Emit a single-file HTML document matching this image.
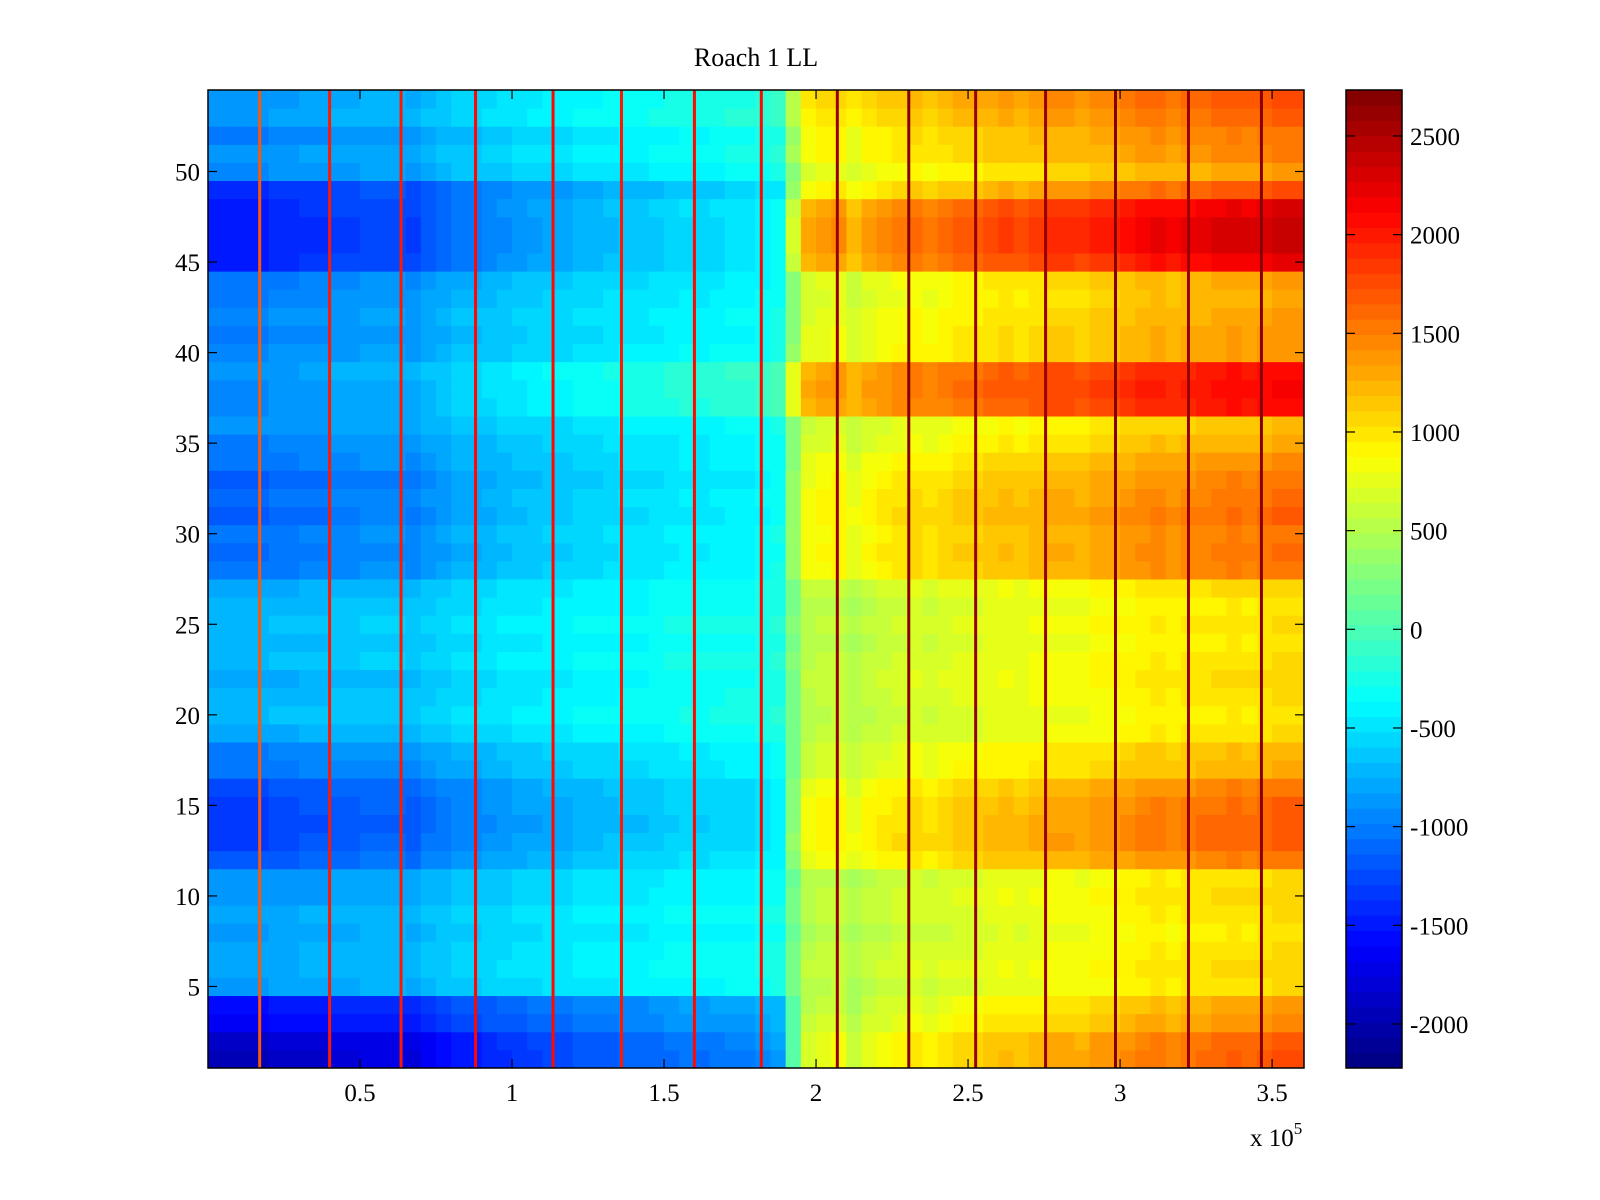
<!DOCTYPE html>
<html><head><meta charset="utf-8"><style>
html,body{margin:0;padding:0;background:#fff;}
svg{display:block;font-family:"Liberation Serif",serif;}
</style></head><body>
<svg id="chart" width="1600" height="1200" viewBox="0 0 1600 1200" xmlns="http://www.w3.org/2000/svg">
<rect width="1600" height="1200" fill="#fff"/>
<text x="756" y="66" font-size="26" text-anchor="middle">Roach 1 LL</text>
<g id="cells"></g>
<g id="lines"></g>
<rect x="208" y="90" width="1096" height="978" fill="none" stroke="#000" stroke-width="1.5"/>
<g id="axes"></g>
<g id="cbar"></g>
<text x="1250" y="1146" font-size="25">x 10<tspan dy="-12" font-size="17">5</tspan></text>
</svg>
<script>
// Data arrays
const xMax = 3.605e5;
const colWidth = 5000;
// column progression (0 = left state, 1 = right state), one per 5000 units
const colT = [0,0,0,0,0.02,0.02,0.03,0.03,0.05,0.05,0.06,0.06,0.06,0.05,0.08,0.1,0.12,0.12,0.14,0.15,
0.16,0.17,0.18,0.18,0.2,0.2,0.21,0.22,0.22,0.23,0.24,0.25,0.24,0.25,0.26,0.26,0.28,0.3,0.55,0.72,
0.74,0.75,0.7,0.74,0.76,0.78,0.8,0.78,0.8,0.82,0.82,0.84,0.85,0.84,0.86,0.88,0.88,0.87,0.9,0.9,
0.92,0.94,0.95,0.93,0.95,0.96,0.97,0.98,0.97,0.98,1.0,1.0,1.0];
// per row (y=1..54) left-state and right-state values
const rowLeft = [-1950,-1900,-1650,-1550,-850,-800,-800,-850,-800,-900,-900,-1200,-1300,-1350,-1300,-1250,-1050,-1000,-800,-700,
-750,-800,-700,-750,-700,-750,-800,-1050,-1100,-1050,-1150,-1100,-1150,-1050,-1000,-900,-950,-950,-900,-950,
-1000,-950,-1000,-1050,-1450,-1500,-1500,-1450,-1400,-950,-900,-1000,-850,-900];
const rowRight = [1750,1700,1450,1350,1050,1100,1050,1000,1050,1100,1050,1550,1700,1700,1650,1550,1300,1250,1050,1000,
1050,1100,1050,1000,1050,1000,1100,1550,1600,1550,1650,1600,1550,1450,1300,1200,2100,2150,2100,1400,
1400,1350,1300,1350,2250,2400,2400,2300,1750,1350,1500,1550,1650,1750];
// event lines: x position (units) and value
const lineX = [0.17e5,0.40e5,0.635e5,0.88e5,1.135e5,1.36e5,1.60e5,1.82e5,2.07e5,2.305e5,2.525e5,2.755e5,2.985e5,3.225e5,3.465e5];
const lineVal = [1700,2000,2000,2050,2100,2000,2100,2100,2650,2700,2650,2650,2700,2650,2700];
const xTicks = [0.5e5,1e5,1.5e5,2e5,2.5e5,3e5,3.5e5];
const xTickLabels = ["0.5","1","1.5","2","2.5","3","3.5"];
const yTicks = [5,10,15,20,25,30,35,40,45,50];
const cTicks = [-2000,-1500,-1000,-500,0,500,1000,1500,2000,2500];
const cMin = -2223, cMax = 2733;

const L=208,R=1304,T=90,B=1068;
const xs = v => L + v/xMax*(R-L);
const ys = v => B - (v-0.5)/54*(B-T);
function jet(v){
  let t=(v-cMin)/(cMax-cMin); t=Math.max(0,Math.min(0.9999,t));
  t=(Math.floor(t*64)+0.5)/64;
  const f=x=>Math.max(0,Math.min(1,x));
  const r=f(1.5-Math.abs(4*t-3)), g=f(1.5-Math.abs(4*t-2)), b=f(1.5-Math.abs(4*t-1));
  return `rgb(${Math.round(r*255)},${Math.round(g*255)},${Math.round(b*255)})`;
}
const NS="http://www.w3.org/2000/svg";
function mk(tag,attrs,parent){const e=document.createElementNS(NS,tag);for(const k in attrs)e.setAttribute(k,attrs[k]);parent.appendChild(e);return e;}
const cells=document.getElementById('cells');
for(let r=0;r<rowLeft.length;r++){
  for(let c=0;c<colT.length;c++){
    const x0=xs(c*colWidth), x1=Math.min(R,xs((c+1)*colWidth));
    if(x0>=R) continue;
    const v=rowLeft[r]+(rowRight[r]-rowLeft[r])*colT[c];
    const el=mk('rect',{x:x0,y:ys(r+1.5),width:x1-x0+0.5,height:(B-T)/54+0.5,fill:jet(v)},cells);
    
    
  }
}
const lines=document.getElementById('lines');
lineX.forEach((lx,i)=>{
  const el=mk('rect',{x:xs(lx)-1.5,y:T,width:3,height:B-T,fill:jet(lineVal[i])},lines);
  
  
});
const axes=document.getElementById('axes');
xTicks.forEach((t,i)=>{
  const x=xs(t);
  mk('line',{x1:x,x2:x,y1:B,y2:B-9,stroke:'#000','stroke-width':1.2},axes);
  mk('line',{x1:x,x2:x,y1:T,y2:T+9,stroke:'#000','stroke-width':1.2},axes);
  const tx=mk('text',{x:x,y:B+33,'font-size':25,'text-anchor':'middle'},axes);
  tx.textContent=xTickLabels[i];
  
  
});
yTicks.forEach(t=>{
  const y=ys(t);
  mk('line',{x1:L,x2:L+9,y1:y,y2:y,stroke:'#000','stroke-width':1.2},axes);
  mk('line',{x1:R,x2:R-9,y1:y,y2:y,stroke:'#000','stroke-width':1.2},axes);
  const tx=mk('text',{x:L-8,y:y+9,'font-size':25,'text-anchor':'end'},axes);
  tx.textContent=String(t);
  
  
});
const cb=document.getElementById('cbar');
const CL=1346,CR=1402;
const cy=v=>B-(v-cMin)/(cMax-cMin)*(B-T);
for(let i=0;i<64;i++){
  const v=cMin+(i+0.5)/64*(cMax-cMin);
  const y1=B-(i+1)/64*(B-T), h=(B-T)/64;
  const el=mk('rect',{x:CL,y:y1,width:CR-CL,height:h+0.5,fill:jet(v)},cb);
  
  
}
mk('rect',{x:CL,y:T,width:CR-CL,height:B-T,fill:'none',stroke:'#000','stroke-width':1.5},cb);
cTicks.forEach(t=>{
  const y=cy(t);
  mk('line',{x1:CL,x2:CL+9,y1:y,y2:y,stroke:'#000','stroke-width':1.2},cb);
  mk('line',{x1:CR,x2:CR-9,y1:y,y2:y,stroke:'#000','stroke-width':1.2},cb);
  const tx=mk('text',{x:1410,y:y+9,'font-size':25},cb);
  tx.textContent=String(t);
  
  
});
</script>
</body></html>
